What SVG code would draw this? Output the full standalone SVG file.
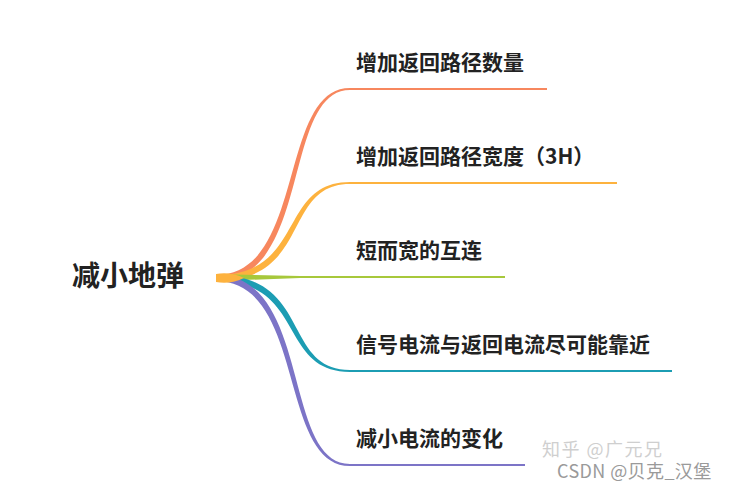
<svg xmlns="http://www.w3.org/2000/svg" width="729" height="490" viewBox="0 0 729 490">
<style>
.lbl{font-family:"Noto Sans CJK SC","Noto Sans",sans-serif;font-weight:bold;font-size:21px;fill:#222}
.root{font-family:"Noto Sans CJK SC","Noto Sans",sans-serif;font-weight:bold;font-size:28px;fill:#222}
.wm{font-family:"Noto Sans CJK SC","Liberation Sans",sans-serif;font-size:18px}
</style>
<rect width="729" height="490" fill="#fff"/>
<g id="connectors">
  <path d="M216,275 C306,275 278,88 350,88 L547,88 L547,90 L350,90 C282,90 312,281 216,281 Z" fill="#F7875E"/>
  <path d="M216,275 C306,275 278,182 350,182 L617,182 L617,184 L350,184 C282,184 312,281 216,281 Z" fill="#FDB23E"/>
  <path d="M216,274 L300,276 L505,276 L505,278 L300,278 L216,281 Z" fill="#A7C83B"/>
  <path d="M216,275 C312,275 282,370 350,370 L672,370 L672,372 L350,372 C278,372 306,281 216,281 Z" fill="#1C9DB3"/>
  <path d="M216,275 C312,275 282,464 350,464 L525,464 L525,466 L350,466 C278,466 306,281 216,281 Z" fill="#7C74C7"/>
  <path d="M216,274 C226,272 236,274 244,278 C236,282 226,284 216,282 Z" fill="#FDB23E"/>
</g>
<g id="root"><text class="root" x="72" y="286">减小地弹</text></g>
<g id="n1"><text class="lbl" x="356" y="70">增加返回路径数量</text></g>
<g id="n2"><text class="lbl" x="356" y="164">增加返回路径宽度（3H）</text></g>
<g id="n3"><text class="lbl" x="356" y="258">短而宽的互连</text></g>
<g id="n4"><text class="lbl" x="356" y="352">信号电流与返回电流尽可能靠近</text></g>
<g id="n5"><text class="lbl" x="356" y="446">减小电流的变化</text></g>
<text class="wm" x="542" y="456" fill="#cfcfcf" letter-spacing="1.5">知乎 @广元兄</text>
<text class="wm" x="557" y="478" fill="#9a9a9a" letter-spacing="0.4">CSDN @贝克_汉堡</text>
</svg>
